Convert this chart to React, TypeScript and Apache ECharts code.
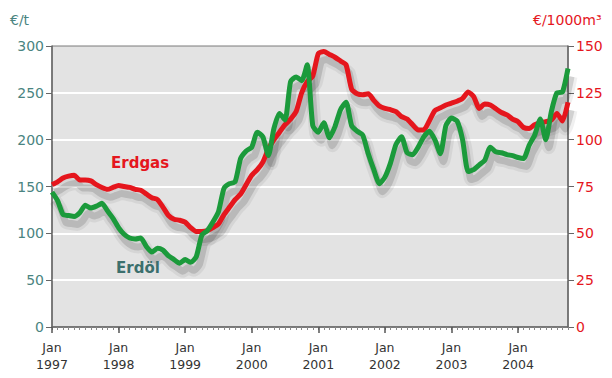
import React, { useEffect, useRef } from "react";
import * as echarts from "echarts";

// Erdöl (€/t), monthly, Jan 1997 – Oct 2004
const oil: number[] = [
  144, 135, 120, 119, 118, 122, 130, 127, 129, 132, 124, 116, // 1997
  106, 99, 95, 94, 95, 86, 80, 84, 82, 76, 72, 68, // 1998
  72, 69, 75, 98, 103, 112, 123, 148, 153, 155, 180, 188, // 1999
  192, 208, 203, 183, 212, 228, 221, 262, 267, 263, 280, 215, // 2000
  208, 218, 202, 214, 232, 240, 215, 209, 205, 185, 168, 153, // 2001
  160, 175, 195, 203, 186, 184, 192, 203, 209, 200, 185, 215, // 2002
  223, 220, 200, 166, 168, 173, 178, 192, 187, 186, 184, 183, // 2003
  181, 180, 194, 205, 222, 200, 230, 250, 251, 276, // 2004
];

// Erdgas (€/1000m³), monthly, Jan 1997 – Oct 2004
const gas: number[] = [
  76, 77.5, 79.5, 80.5, 81, 78.5, 78.5, 78, 76, 74.5, 73.5, 74.5, // 1997
  75.5, 75, 74.5, 73.5, 73, 71, 69, 68, 64, 59.5, 57.5, 57, // 1998
  56, 53, 51, 51, 51.5, 53, 55, 60, 64, 68, 71, 76, // 1999
  81, 84, 88, 95, 100, 104, 108, 111, 115, 125, 131, 134, // 2000
  146, 147, 145.5, 144, 142, 140, 127, 124.5, 124, 124.5, 121, 118, // 2001
  116.7, 116, 115, 112.3, 111, 108, 105.2, 105.2, 110, 115.5, 117, 118.5, // 2002
  119.5, 120.5, 122, 125.5, 123, 116.7, 119, 118.5, 116.5, 114.5, 113.2, 111, // 2003
  109.6, 106.5, 106, 108, 109, 109.6, 110.5, 114, 110, 120, // 2004
];

const years: number[] = [1997, 1998, 1999, 2000, 2001, 2002, 2003, 2004];
const monthCodes: string[] = ["01", "02", "03", "04", "05", "06", "07", "08", "09", "10", "11", "12"];
const categories: string[] = years
  .flatMap((y) => monthCodes.map((m) => `${y}-${m}`))
  .slice(0, oil.length);

const leftTicks = { min: 0, max: 300, interval: 50 };
const rightTicks = { min: 0, max: 150, interval: 25 };

const RED = "#e5161d";
const GREEN = "#1b9a3b";
const TEAL = "#4a8481";
const FONT = "DejaVu Sans";

export default function App() {
  const ref = useRef<HTMLDivElement>(null);
  useEffect(() => {
    if (!ref.current) return;
    const chart = echarts.init(ref.current, undefined, { renderer: "svg" });

    const hiddenCat = (gridIndex: number) => ({
      type: "category",
      gridIndex,
      data: categories,
      boundaryGap: false,
      show: false,
    });
    const hiddenVal = (gridIndex: number, t: { min: number; max: number; interval: number }) => ({
      type: "value",
      gridIndex,
      ...t,
      show: false,
      splitLine: { show: false },
    });
    const shadowSeries = (data: number[], yAxisIndex: number, width: number, alpha: number) => ({
      type: "line",
      xAxisIndex: 2,
      yAxisIndex,
      data,
      showSymbol: false,
      smooth: 0.2,
      silent: true,
      clip: false,
      lineStyle: { color: `rgba(0,0,0,${alpha})`, width },
      z: 1,
    });

    chart.setOption({
      animation: false,
      backgroundColor: "#ffffff",
      textStyle: { fontFamily: FONT },
      grid: [
        {
          left: 52,
          right: 44,
          top: 46,
          bottom: 51,
          show: true,
          backgroundColor: "#e3e3e3",
          borderColor: "#7a7a7a",
          borderWidth: 1,
        },
        { left: 55, right: 41, top: 54, bottom: 43, show: false },
      ],
      xAxis: [
        {
          type: "category",
          gridIndex: 0,
          data: categories,
          boundaryGap: false,
          axisLine: { show: true, lineStyle: { color: "#666", width: 1.5 } },
          axisTick: { show: true, interval: 0, length: 3, lineStyle: { color: "#888" } },
          axisLabel: {
            interval: 11,
            color: "#333",
            fontSize: 12.5,
            lineHeight: 17,
            margin: 12,
            fontFamily: FONT,
            formatter: (v: string) => `Jan\n${v.split("-")[0]}`,
          },
          splitLine: { show: false },
        },
        {
          type: "category",
          gridIndex: 0,
          data: categories,
          boundaryGap: false,
          position: "bottom",
          axisLine: { show: false },
          axisTick: { show: true, interval: 11, length: 6, lineStyle: { color: "#555", width: 1.5 } },
          axisLabel: { show: false },
          splitLine: { show: false },
        },
        hiddenCat(1),
      ],
      yAxis: [
        {
          type: "value",
          gridIndex: 0,
          position: "left",
          ...leftTicks,
          axisLine: { show: true, lineStyle: { color: "#666", width: 1.5 } },
          axisTick: { show: true, length: 6, lineStyle: { color: "#666" } },
          axisLabel: { color: TEAL, fontSize: 14, margin: 8, fontFamily: FONT },
          splitLine: {
            show: true,
            showMinLine: false,
            showMaxLine: false,
            lineStyle: { color: "#ffffff", width: 2 },
          },
        },
        {
          type: "value",
          gridIndex: 0,
          position: "right",
          ...rightTicks,
          axisLine: { show: true, lineStyle: { color: "#666", width: 1.5 } },
          axisTick: { show: true, length: 6, lineStyle: { color: "#666" } },
          axisLabel: { color: RED, fontSize: 14, margin: 8, fontFamily: FONT },
          splitLine: { show: false },
        },
        hiddenVal(1, leftTicks),
        hiddenVal(1, rightTicks),
      ],
      series: [
        shadowSeries(gas, 3, 13, 0.06),
        shadowSeries(gas, 3, 7, 0.13),
        shadowSeries(oil, 2, 13, 0.06),
        shadowSeries(oil, 2, 7, 0.13),
        {
          name: "Erdgas",
          type: "line",
          xAxisIndex: 0,
          yAxisIndex: 1,
          data: gas,
          showSymbol: false,
          smooth: 0.2,
          lineStyle: { color: RED, width: 5 },
          z: 2,
        },
        {
          name: "Erdöl",
          type: "line",
          xAxisIndex: 0,
          yAxisIndex: 0,
          data: oil,
          showSymbol: false,
          smooth: 0.2,
          lineStyle: { color: GREEN, width: 5 },
          z: 3,
        },
      ],
      graphic: [
        {
          type: "text",
          left: 10,
          top: 13,
          style: { text: "€/t", fill: TEAL, font: `14px "${FONT}"` },
        },
        {
          type: "text",
          left: 533,
          top: 13,
          style: { text: "€/1000m³", fill: RED, font: `14px "${FONT}"` },
        },
        {
          type: "text",
          left: 111,
          top: 155,
          z: 10,
          style: { text: "Erdgas", fill: RED, font: `bold 15px "${FONT}"` },
        },
        {
          type: "text",
          left: 116,
          top: 260,
          z: 10,
          style: { text: "Erdöl", fill: "#3b6f6d", font: `bold 15px "${FONT}"` },
        },
      ],
    });
    return () => chart.dispose();
  }, []);
  return (
    <div
      ref={ref}
      style={{ position: "fixed", left: 0, top: 0, width: 612, height: 378 }}
    />
  );
}
